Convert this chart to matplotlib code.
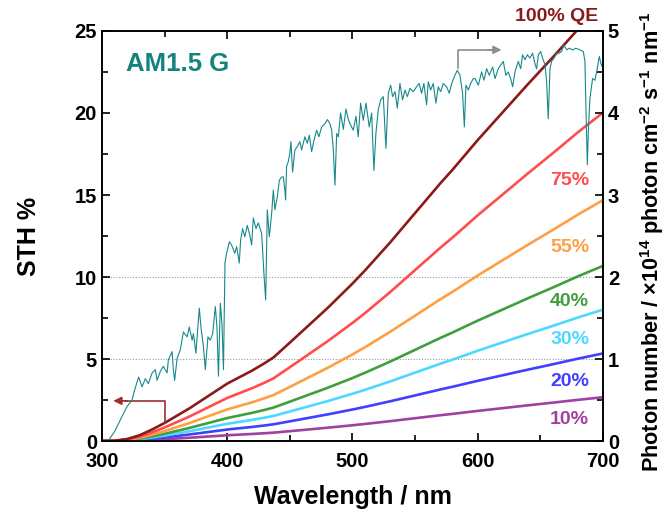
import numpy as np
import matplotlib.pyplot as plt
from matplotlib.ticker import MultipleLocator

plt.rcParams['font.family'] = ['Liberation Sans', 'DejaVu Sans']
plt.rcParams['font.weight'] = 'bold'
plt.rcParams['mathtext.fontset'] = 'custom'
plt.rcParams['mathtext.rm'] = 'Liberation Sans:bold'
plt.rcParams['mathtext.it'] = 'Liberation Sans:bold'
plt.rcParams['mathtext.bf'] = 'Liberation Sans:bold'

# cumulative STH (%) at 100% quantum efficiency vs absorption edge
wl_sth = [300, 310, 320, 330, 340, 350, 360, 370, 380, 390, 400, 410, 420, 430,
          437, 450, 460, 470, 480, 490, 500, 510, 520, 530, 540, 550, 560, 570,
          580, 590, 600, 620, 640, 660, 680, 700]
sth_100 = [0.0, 0.02, 0.12, 0.35, 0.7, 1.1, 1.55, 2.0, 2.5, 3.0, 3.5, 3.9, 4.3, 4.75,
           5.1, 6.0, 6.7, 7.4, 8.1, 8.85, 9.6, 10.4, 11.25, 12.1, 13.0, 13.9, 14.8, 15.7,
           16.55, 17.45, 18.35, 20.05, 21.75, 23.4, 25.1, 26.7]

qe_levels = [1.00, 0.75, 0.55, 0.40, 0.30, 0.20, 0.10]
qe_labels = ['100% QE', '75%', '55%', '40%', '30%', '20%', '10%']
qe_colors = ['#8b1a1a', '#ff4d4d', '#ffa040', '#3f9f3f', '#4dd8ff', '#4040ff', '#a040a0']

# AM1.5 G photon flux, x1e14 photon cm-2 s-1 nm-1
wl_am15 = [305, 310.6, 316, 320, 324, 325.3, 328, 329.3, 332, 334.6, 337, 340, 342.6,
           344, 346.6, 349, 352, 353, 356, 357, 358, 360, 362.5, 365, 368, 369.7, 372,
           373, 375, 377.7, 379, 381, 382.5, 384.6, 386.5, 388.4, 390.5, 391.8, 393,
           394.5, 395.8, 397, 398.2, 399.5, 401.7, 403.5, 406, 407.5, 409.6, 410.7,
           412.3, 414, 416, 418, 419.5, 420.8, 423, 424.8, 427.5, 429.3, 430.7, 432,
           433.6, 435.5, 436.8, 438.1, 440, 441.6, 443.4, 444.8, 446, 446.6, 447.4,
           448.8, 450, 450.9, 452.2, 454, 456, 458, 459.4, 462, 464, 465.5, 467.4,
           469.3, 471.4, 473.2, 475.4, 478, 480, 482, 483.4, 484.7, 486, 487.4, 488.7,
           490.5, 492.7, 494.8, 496.7, 498, 500.6, 502.8, 504.6, 506.5, 508.6, 510.8,
           513.4, 515.3, 517.1, 518.7, 520.6, 522.5, 524.6, 526.7, 528.6, 530.5, 532,
           534, 535.8, 537.9, 540, 541.9, 543.8, 545.9, 548.5, 551.2, 553.3, 555.2,
           557, 559.2, 560.5, 562.4, 564.5, 566.6, 568.5, 570.4, 572.5, 575.2, 577.3,
           579.2, 581.8, 583.7, 585.8, 587.9, 589.3, 590.6, 592.5, 594.3, 596.5,
           597.8, 600.5, 603.1, 605, 607.1, 609.2, 611.9, 613.8, 616.4, 619.1, 620.4,
           622.5, 624.4, 626.3, 627.9, 629.7, 632.4, 634.3, 635.8, 637.7, 639.6,
           641.7, 643.8, 645.7, 647, 648.4, 650.2, 651.8, 653.7, 655, 656.3, 657.7,
           659, 660.9, 663, 665.1, 667, 668.8, 671, 673.1, 675.8, 678.4, 681.6, 684.3,
           685.6, 686.4, 687.5, 688.5, 689.6, 691.7, 693.6, 694.9, 697.1, 698.4, 700]
flux_am15 = [0.0, 0.13, 0.30, 0.42, 0.50, 0.58, 0.72, 0.78, 0.66, 0.76, 0.70, 0.83, 0.87,
             0.74, 0.85, 0.91, 0.83, 0.99, 1.09, 0.87, 0.74, 1.01, 1.11, 1.33, 1.27, 1.39,
             1.23, 1.31, 1.07, 1.62, 1.39, 1.15, 0.87, 1.27, 1.23, 1.31, 1.64, 1.39, 0.79,
             1.68, 1.43, 0.87, 2.17, 2.29, 2.43, 2.39, 2.29, 2.37, 2.17, 2.45,
             2.59, 2.49, 2.63, 2.51, 2.39, 2.72, 2.59, 2.66, 2.53, 2.04, 1.72, 2.82,
             2.49, 2.78, 3.06, 2.82, 2.98, 3.18, 3.22, 3.22, 3.06, 2.94, 3.35,
             3.41, 3.51, 3.65, 3.28, 3.55, 3.59, 3.65, 3.55, 3.71, 3.63, 3.73, 3.53,
             3.67, 3.79, 3.71, 3.83, 3.87, 3.92, 3.87, 3.79, 3.55, 3.12, 3.75, 3.71,
             4.00, 3.80, 4.05, 3.92, 3.87, 3.79, 3.96, 3.71, 4.12, 3.91, 4.12,
             3.83, 4.00, 3.30, 3.75, 4.04, 4.16, 4.20, 3.57, 4.24, 4.34, 4.20,
             4.26, 4.06, 4.36, 4.16, 4.28, 4.20, 4.30, 4.26, 4.32, 4.36, 4.24,
             4.36, 4.10, 4.38, 4.28, 4.36, 4.12, 4.32, 4.26, 4.36, 4.32, 4.24,
             4.36, 4.46, 4.52, 4.46, 4.24, 3.83, 4.34, 4.28, 4.36, 4.42,
             4.42, 4.34, 4.50, 4.40, 4.54, 4.46, 4.56, 4.42, 4.54, 4.60, 4.63,
             4.46, 4.50, 4.42, 4.32, 4.50, 4.63, 4.54, 4.71, 4.65, 4.71,
             4.67, 4.73, 4.60, 4.54, 4.71, 4.75, 4.67, 4.59, 4.38, 3.93, 4.54,
             4.63, 4.67, 4.73, 4.73, 4.75, 4.83, 4.77, 4.79, 4.77, 4.79, 4.77, 4.75,
             4.63, 4.06, 3.37, 3.85, 4.18, 4.42, 4.40, 4.50, 4.69, 4.60, 4.54]

# label anchor points (wavelength, STH %), right-aligned
label_pos = [(696, 25.9), (689, 15.9), (689, 11.8), (689, 8.5), (689, 6.2), (689, 3.6), (689, 1.3)]


def style_axis(ax):
    ax.tick_params(which='both', direction='in', width=1.2, labelsize=14.5)
    ax.tick_params(which='major', length=6)
    ax.tick_params(which='minor', length=4)
    for sp in ax.spines.values():
        sp.set_linewidth(1.2)


def main():
    fig = plt.figure(figsize=(6.67, 5.14), dpi=100)
    ax = fig.add_axes([0.1529, 0.142, 0.7511, 0.7977])
    ax2 = ax.twinx()

    ax.axhline(5, color='#999999', lw=0.8, ls=(0, (1, 1.5)), zorder=0)
    ax.axhline(10, color='#999999', lw=0.8, ls=(0, (1, 1.5)), zorder=0)

    sth_100_arr = np.array(sth_100)
    for qe, color in zip(qe_levels[::-1], qe_colors[::-1]):
        ax.plot(wl_sth, sth_100_arr * qe, color=color, lw=1.9, zorder=3)

    for (x, y), text, color in zip(label_pos, qe_labels, qe_colors):
        ax.text(x, y, text, color=color, fontsize=14, fontweight='bold',
                ha='right', va='center', clip_on=False)

    ax.text(319, 23.0, 'AM1.5 G', color='#12837f', fontsize=18.5, fontweight='bold',
            ha='left', va='center')

    # arrow pointing to the STH axis
    ax.plot([350, 350, 318], [1.1, 2.45, 2.45], color='#9b2f2f', lw=1.2, zorder=4)
    ax.annotate('', xy=(309, 2.45), xytext=(320, 2.45),
                arrowprops=dict(arrowstyle='-|>', color='#9b2f2f', lw=1.2,
                                mutation_scale=12, shrinkA=0, shrinkB=0))

    ax2.plot(wl_am15, flux_am15, color='#18898a', lw=0.8, zorder=2)
    # arrow pointing to the photon number axis
    ax2.plot([584, 584, 612], [4.55, 4.77, 4.77], color='#8c8c8c', lw=1.2)
    ax2.annotate('', xy=(619, 4.77), xytext=(608, 4.77),
                 arrowprops=dict(arrowstyle='-|>', color='#8c8c8c', lw=1.2,
                                 mutation_scale=12, shrinkA=0, shrinkB=0))

    ax.set_xlim(300, 700)
    ax.set_ylim(0, 25)
    ax2.set_ylim(0, 5)
    ax.xaxis.set_major_locator(MultipleLocator(100))
    ax.xaxis.set_minor_locator(MultipleLocator(50))
    ax.yaxis.set_major_locator(MultipleLocator(5))
    ax.yaxis.set_minor_locator(MultipleLocator(2.5))
    ax2.yaxis.set_major_locator(MultipleLocator(1))
    ax2.yaxis.set_minor_locator(MultipleLocator(0.5))
    ax.tick_params(which='both', top=True)
    style_axis(ax)
    style_axis(ax2)
    ax.tick_params(axis='x', pad=8)

    ax.set_xlabel('Wavelength / nm', fontsize=18, fontweight='bold', labelpad=10)
    ax.set_ylabel('STH %', fontsize=18, fontweight='bold', labelpad=24)
    ax2.set_ylabel(r'Photon number / $\times$10$^{14}$ photon cm$^{-2}$ s$^{-1}$ nm$^{-1}$',
                   fontsize=15.6, fontweight='bold')
    ax2.yaxis.set_label_coords(1.07, 0.485)

    fig.savefig('out.png', dpi=100)


if __name__ == "__main__":
    main()
